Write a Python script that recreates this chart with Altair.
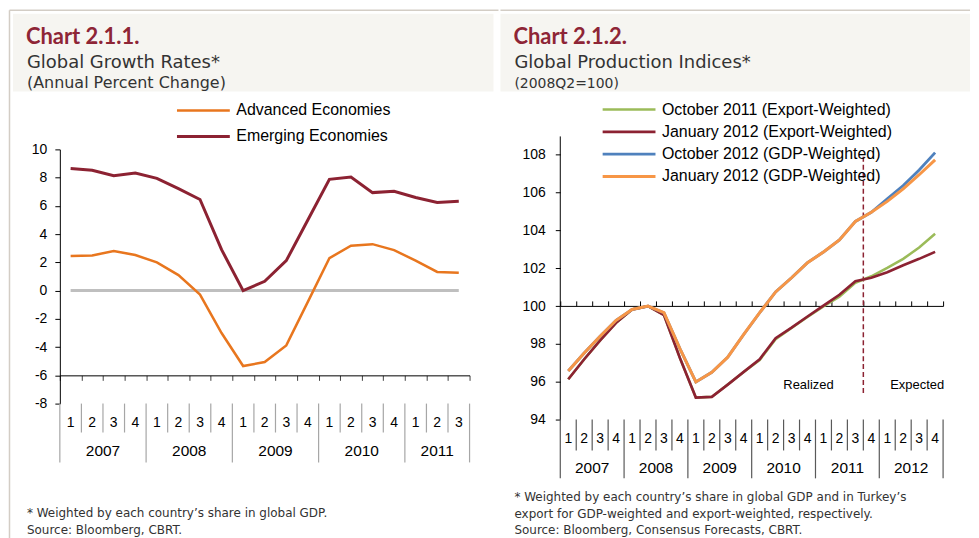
import altair as alt
import pandas as pd

# ---------------- Chart 2.1.1 data ----------------
left_quarters = ["1", "2", "3", "4", "1", "2", "3", "4", "1", "2", "3", "4",
                 "1", "2", "3", "4", "1", "2", "3"]
left_years = ["2007", "2008", "2009", "2010", "2011"]
left_year_len = [4, 4, 4, 4, 3]
advanced = [2.45, 2.49, 2.80, 2.52, 2.00, 1.10, -0.28, -3.00, -5.34, -5.06,
            -3.88, -0.80, 2.30, 3.18, 3.29, 2.87, 2.12, 1.32, 1.27]
emerging = [8.64, 8.52, 8.14, 8.33, 7.95, 7.22, 6.45, 2.90, 0.00, 0.66,
            2.12, 5.00, 7.88, 8.05, 6.94, 7.04, 6.59, 6.24, 6.33]
left_series = ["Advanced Economies", "Emerging Economies"]
left_colors = ["#E8761E", "#8C2232"]
left_widths = [2.5, 3.0]
left_yticks = [-8, -6, -4, -2, 0, 2, 4, 6, 8, 10]

# ---------------- Chart 2.1.2 data ----------------
right_quarters = ["1", "2", "3", "4"] * 6
right_years = ["2007", "2008", "2009", "2010", "2011", "2012"]
right_year_len = [4, 4, 4, 4, 4, 4]
oct11_exp = [96.13, 97.19, 98.19, 99.12, 99.82, 100.00, 99.53, 97.26, 95.16, 95.20,
             95.85, 96.52, 97.15, 98.25, 98.84, 99.42, 99.98, 100.50, 101.23, 101.58,
             102.02, 102.50, 103.10, 103.83]
jan12_exp = [96.13, 97.19, 98.19, 99.12, 99.82, 100.00, 99.53, 97.26, 95.16, 95.20,
             95.85, 96.52, 97.19, 98.30, 98.86, 99.45, 100.03, 100.60, 101.32, 101.50,
             101.79, 102.16, 102.50, 102.87]
oct12_gdp = [96.57, 97.52, 98.41, 99.25, 99.82, 100.00, 99.65, 97.75, 95.99, 96.50,
             97.30, 98.50, 99.65, 100.75, 101.50, 102.30, 102.86, 103.50, 104.48, 104.96,
             105.68, 106.38, 107.20, 108.12]
jan12_gdp = [96.57, 97.52, 98.41, 99.25, 99.82, 100.00, 99.65, 97.75, 95.99, 96.50,
             97.30, 98.50, 99.65, 100.75, 101.50, 102.30, 102.86, 103.50, 104.48, 104.96,
             105.54, 106.20, 106.95, 107.74]
right_series = ["October 2011 (Export-Weighted)", "January 2012 (Export-Weighted)",
                "October 2012 (GDP-Weighted)", "January 2012 (GDP-Weighted)"]
right_colors = ["#9BBB59", "#8C2232", "#4F81BD", "#F79646"]
right_widths = [2.5, 3.0, 3.0, 3.0]
right_yticks = [94, 96, 98, 100, 102, 104, 106, 108]
forecast_boundary = 19          # between 2011Q3 and 2011Q4
annotations = ["Realized", "Expected"]

left_title = ["Chart 2.1.1.", "Global Growth Rates*", "(Annual Percent Change)"]
right_title = ["Chart 2.1.2.", "Global Production Indices*", "(2008Q2=100)"]
left_notes = ["* Weighted by each country\u2019s share in global GDP.",
              "Source: Bloomberg, CBRT."]
right_notes = ["* Weighted by each country\u2019s share in global GDP and in Turkey\u2019s",
               "export for GDP-weighted and export-weighted, respectively.",
               "Source: Bloomberg, Consensus Forecasts, CBRT."]

AX_FONT = "Liberation Sans"
TXT_FONT = "DejaVu Sans"
TITLE_COLOR = "#8E2536"
BORDER = "#d3cdc5"
BOX = "#f6f5f1"

one = pd.DataFrame({"k": [0]})


def long_df(series, values):
    rows = []
    for s, vals in zip(series, values):
        for i, v in enumerate(vals):
            rows.append({"series": s, "x": i + 0.5, "value": v})
    return pd.DataFrame(rows)


def category_layers(quarters, years, year_len, xscale, xaxis, h, qlen, ylen, qy, yy, sep_color):
    n = len(quarters)
    qdf = pd.DataFrame({"x": [i + 0.5 for i in range(n)], "label": quarters})
    starts, b = [], 0
    for L in year_len:
        starts.append(b)
        b += L
    ybounds = starts + [b]
    ydf = pd.DataFrame({"x": [s + L / 2 for s, L in zip(starts, year_len)], "label": years})
    qsep = pd.DataFrame({"x": [i for i in range(1, n) if i not in ybounds]})
    ysep = pd.DataFrame({"x": ybounds})
    X = lambda: alt.X("x:Q", scale=xscale, axis=xaxis)
    q_rules = alt.Chart(qsep).mark_rule(color=sep_color, strokeWidth=1.2).encode(
        x=X(), y=alt.value(h), y2=alt.value(h + qlen))
    y_rules = alt.Chart(ysep).mark_rule(color=sep_color, strokeWidth=1.2).encode(
        x=X(), y=alt.value(h), y2=alt.value(h + ylen))
    q_text = alt.Chart(qdf).mark_text(font=AX_FONT, fontSize=14, color="#000",
                                      baseline="middle").encode(
        x=X(), y=alt.value(qy), text="label:N")
    y_text = alt.Chart(ydf).mark_text(font=AX_FONT, fontSize=15.5, color="#000",
                                      baseline="middle").encode(
        x=X(), y=alt.value(yy), text="label:N")
    return [q_rules, y_rules, q_text, y_text]


def header_layers(x0, x1, tx, titles, sub2_size, notes, note_y, left_border):
    layers = []
    layers.append(alt.Chart(one).mark_rect(color=BOX).encode(
        x=alt.value(x0), x2=alt.value(x1), y=alt.value(-136), y2=alt.value(-58)))
    top_x1 = x1 + 5 if left_border else x1
    layers.append(alt.Chart(one).mark_rule(color=BORDER, strokeWidth=1.5).encode(
        x=alt.value(x0 - 3.5 if left_border else x0), x2=alt.value(top_x1), y=alt.value(-139.5)))
    if left_border:
        layers.append(alt.Chart(one).mark_rule(color=BORDER, strokeWidth=1.5).encode(
            x=alt.value(x0 - 3.5), y=alt.value(-139.5), y2=alt.value(392)))
    layers.append(alt.Chart(one).mark_text(text=titles[0], font="Lato", fontWeight="bold",
                                           fontSize=22, color=TITLE_COLOR, align="left",
                                           baseline="alphabetic").encode(
        x=alt.value(tx - 1), y=alt.value(-105.5)))
    layers.append(alt.Chart(one).mark_text(text=titles[1], font=TXT_FONT, fontSize=18,
                                           color="#333", align="left",
                                           baseline="alphabetic").encode(
        x=alt.value(tx), y=alt.value(-82)))
    layers.append(alt.Chart(one).mark_text(text=titles[2], font=TXT_FONT, fontSize=sub2_size,
                                           color="#333", align="left",
                                           baseline="alphabetic").encode(
        x=alt.value(tx), y=alt.value(-62)))
    for line, yv in zip(notes, note_y):
        layers.append(alt.Chart(one).mark_text(text=line, font=TXT_FONT, fontSize=12,
                                               color="#333", align="left",
                                               baseline="middle").encode(
            x=alt.value(tx), y=alt.value(yv)))
    return layers


def legend(lx, ly, rowpad):
    return alt.Legend(title=None, orient="none", legendX=lx, legendY=ly,
                      symbolType="stroke", symbolSize=2809, symbolStrokeWidth=3,
                      labelFont=AX_FONT, labelFontSize=16, labelColor="#000",
                      labelLimit=500, labelOffset=5, clipHeight=20,
                      rowPadding=rowpad, padding=0)


def y_axis(ticks, pad, domain):
    return alt.Axis(values=ticks, tickSize=5, labelPadding=pad, labelFont=AX_FONT,
                    labelFontSize=14, labelColor="#000", labelExpr="'' + datum.value",
                    labelOverlap=False, domain=domain, domainColor="#000",
                    tickColor="#000", grid=False, title=None)


# ---------------- left chart ----------------
W1, H1 = 411, 255
xs1 = alt.Scale(domain=[0, 19], nice=False, zero=False)
ys1 = alt.Scale(domain=[-8, 10], nice=False, zero=False)
xa1 = alt.Axis(orient="bottom", offset=-28.33, values=list(range(20)), labels=False,
               tickSize=5, tickColor="#404040", domainColor="#000", grid=False, title=None)
ya1 = y_axis(left_yticks, 8, True)
ldf = long_df(left_series, [advanced, emerging])

left_lines = alt.Chart(ldf).mark_line().encode(
    x=alt.X("x:Q", scale=xs1, axis=xa1),
    y=alt.Y("value:Q", scale=ys1, axis=ya1),
    color=alt.Color("series:N", scale=alt.Scale(domain=left_series, range=left_colors),
                    legend=legend(116, -49, 6)),
    strokeWidth=alt.StrokeWidth("series:N", scale=alt.Scale(domain=left_series,
                                                            range=left_widths), legend=None),
)
zero_line = alt.Chart(one).mark_rule(color="#BFBFBF", strokeWidth=3).encode(
    x=alt.XDatum(0.5, type="quantitative", scale=xs1, axis=xa1),
    x2=alt.X2Datum(18.5),
    y=alt.YDatum(0, type="quantitative", scale=ys1, axis=ya1))

left_layers = header_layers(-47, 435, -33, left_title, 16, left_notes, [365, 382], True)
left_layers += category_layers(left_quarters, left_years, left_year_len, xs1, xa1, H1,
                               29, 59, 274, 303, "#A6A6A6")
left_layers += [zero_line, left_lines]
left_chart = alt.layer(*left_layers).properties(width=W1, height=H1)

# ---------------- right chart ----------------
W2, H2 = 384, 271
xs2 = alt.Scale(domain=[0, 24], nice=False, zero=False)
ys2 = alt.Scale(domain=[94, 108.29], nice=False, zero=False)
xa2 = alt.Axis(orient="top", offset=-157, values=list(range(25)), labels=False,
               tickSize=5, tickColor="#000", domainColor="#000", grid=False, title=None)
ya2 = y_axis(right_yticks, 10, False)
rdf = long_df(right_series, [oct11_exp, jan12_exp, oct12_gdp, jan12_gdp])

right_lines = alt.Chart(rdf).mark_line().encode(
    x=alt.X("x:Q", scale=xs2, axis=xa2),
    y=alt.Y("value:Q", scale=ys2, axis=ya2),
    color=alt.Color("series:N", scale=alt.Scale(domain=right_series, range=right_colors),
                    legend=legend(41, -50, 2.4)),
    strokeWidth=alt.StrokeWidth("series:N", scale=alt.Scale(domain=right_series,
                                                            range=right_widths), legend=None),
)
y_domain_rule = alt.Chart(one).mark_rule(color="#000", strokeWidth=1).encode(
    x=alt.value(0), y=alt.value(-13), y2=alt.value(H2))
dash_rule = alt.Chart(one).mark_rule(color="#8C2232", strokeWidth=1.5,
                                     strokeDash=[5, 3]).encode(
    x=alt.XDatum(forecast_boundary, type="quantitative", scale=xs2, axis=xa2),
    y=alt.YDatum(107.9, type="quantitative", scale=ys2, axis=ya2),
    y2=alt.Y2Datum(95.35))
ann_layers = []
for label, xv in zip(annotations, [249, 358]):
    ann_layers.append(alt.Chart(one).mark_text(text=label, font=AX_FONT, fontSize=13,
                                               color="#000", baseline="middle").encode(
        x=alt.value(xv), y=alt.value(236)))

right_layers = header_layers(-60, 411, -46, right_title, 14, right_notes, [349, 366, 382], False)
right_layers += category_layers(right_quarters, right_years, right_year_len, xs2, xa2, H2,
                                31, 59, 291, 320, "#595959")
right_layers += [y_domain_rule, dash_rule] + ann_layers + [right_lines]
right_chart = alt.layer(*right_layers).properties(width=W2, height=H2)

chart = alt.hconcat(left_chart, right_chart, spacing=0).resolve_scale(
    color="independent", strokeWidth="independent", x="independent", y="independent"
).resolve_legend(color="independent").properties(padding=0).configure_view(stroke=None)

chart.save("out.html", embed_options={"renderer": "svg", "actions": False})
